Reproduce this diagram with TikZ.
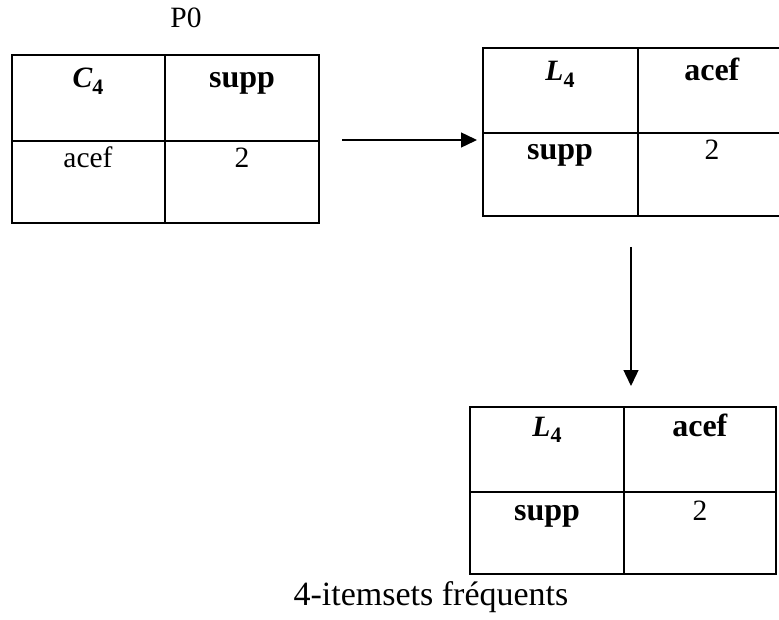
\documentclass[tikz,border=0pt]{standalone}
\usepackage{fontspec}
\setmainfont{Liberation Serif}
\usetikzlibrary{arrows.meta}
\newcommand{\celltxt}{\fontsize{29.5}{34}\selectfont}
\newcommand{\boldtxt}[1]{{\fontsize{32}{36}\selectfont\textbf{#1}}}
\newcommand{\captxt}{\fontsize{34}{40}\selectfont}
\newcommand{\symb}[2]{\textbf{\textit{#1}}\raisebox{-0.22em}{\fontsize{22}{24}\selectfont\textbf{#2}}}
\begin{document}
\begin{tikzpicture}[x=1pt,y=-1pt,
  cellbox/.style={draw, line width=1.8pt, inner sep=0pt, outer sep=0pt, anchor=north west},
  txt/.style={inner sep=0pt, anchor=base, font=\celltxt},
  link/.style={line width=1.4pt, -{Triangle[length=16pt,width=15pt]}}]
\useasboundingbox (0,0) rectangle (779,620);
\clip (0,0) rectangle (779,620);
% Table 1
\node[cellbox, minimum width=153pt, minimum height=86pt] (t1a) at (12,55) {};
\node[cellbox, minimum width=154pt, minimum height=86pt] (t1b) at (165,55) {};
\node[cellbox, minimum width=153pt, minimum height=82pt] (t1c) at (12,141) {};
\node[cellbox, minimum width=154pt, minimum height=82pt] (t1d) at (165,141) {};
\node[txt] (t1at) at (88,88) {\symb{C}{4}};
\node[txt] (t1bt) at (242,88) {\boldtxt{supp}};
\node[txt] (t1ct) at (88,168) {acef};
\node[txt] (t1dt) at (242,168) {2};
% P0
\node[txt] (p0) at (186,28) {P0};
% Table 2
\node[cellbox, minimum width=155pt, minimum height=85pt] (t2a) at (483,48) {};
\node[cellbox, minimum width=148pt, minimum height=85pt] (t2b) at (638,48) {};
\node[cellbox, minimum width=155pt, minimum height=83pt] (t2c) at (483,133) {};
\node[cellbox, minimum width=148pt, minimum height=83pt] (t2d) at (638,133) {};
\node[txt] (t2at) at (560,81) {\symb{L}{4}};
\node[txt] (t2bt) at (712,81) {\boldtxt{acef}};
\node[txt] (t2ct) at (560,160) {\boldtxt{supp}};
\node[txt] (t2dt) at (712,160) {2};
% Table 3
\node[cellbox, minimum width=154pt, minimum height=85pt] (t3a) at (470,407) {};
\node[cellbox, minimum width=152pt, minimum height=85pt] (t3b) at (624,407) {};
\node[cellbox, minimum width=154pt, minimum height=82pt] (t3c) at (470,492) {};
\node[cellbox, minimum width=152pt, minimum height=82pt] (t3d) at (624,492) {};
\node[txt] (t3at) at (547,436) {\symb{L}{4}};
\node[txt] (t3bt) at (700,436) {\boldtxt{acef}};
\node[txt] (t3ct) at (547,520) {\boldtxt{supp}};
\node[txt] (t3dt) at (700,520) {2};
% caption
\node[inner sep=0pt, anchor=base, font=\captxt] (cap) at (431,605) {4-itemsets fréquents};
% arrows
\coordinate (a1s) at (342,140);
\coordinate (a1e) at (477,140);
\coordinate (a2s) at (631,247);
\coordinate (a2e) at (631,386);
\draw[link] (a1s) -- (a1e);
\draw[link] (a2s) -- (a2e);
\end{tikzpicture}
\end{document}
